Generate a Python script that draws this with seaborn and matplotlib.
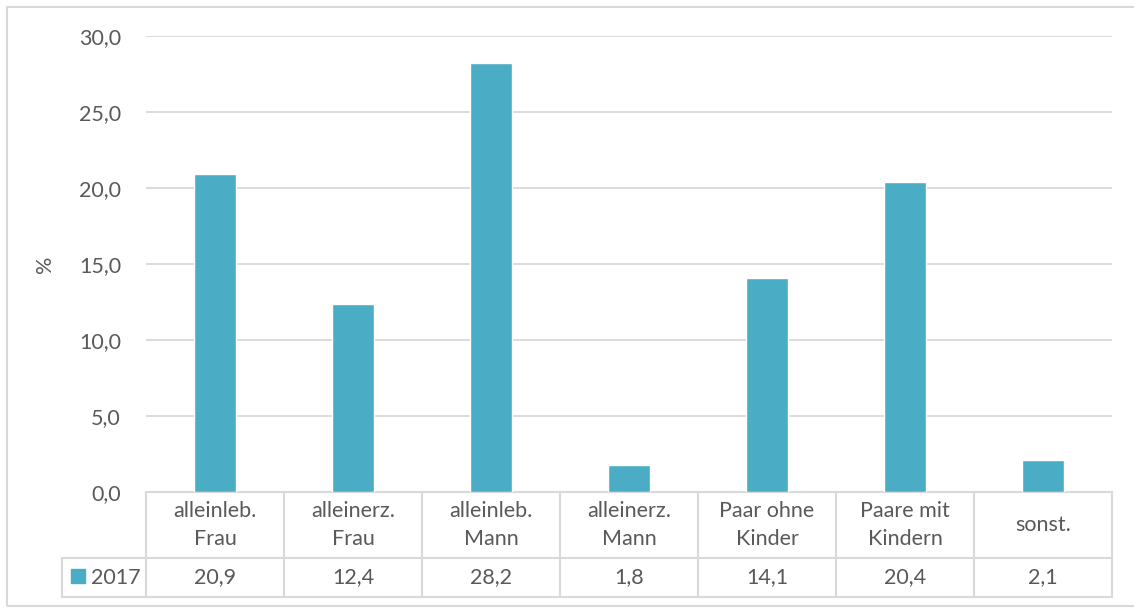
import pandas as pd
import seaborn as sns
import matplotlib.pyplot as plt
from matplotlib.patches import Rectangle
from matplotlib.transforms import blended_transform_factory

# data
categories = ["alleinleb.\nFrau", "alleinerz.\nFrau", "alleinleb.\nMann", "alleinerz.\nMann",
              "Paar ohne\nKinder", "Paare mit\nKindern", "sonst."]
values = [20.9, 12.4, 28.2, 1.8, 14.1, 20.4, 2.1]
series = "2017"
yticks = [0, 5, 10, 15, 20, 25, 30]

BAR = "#4BACC6"
GRID = "#D9D9D9"
TXT = "#595959"

sns.set_theme(style="white")
plt.rcParams["font.family"] = ["Lato", "DejaVu Sans"]

df = pd.DataFrame({"cat": categories, "val": values})

fig = plt.figure(figsize=(11.34, 6.08), dpi=100)
ax = fig.add_axes([146 / 1134, 116 / 608, 966 / 1134, 456 / 608])

sns.barplot(data=df, x="cat", y="val", color=BAR, width=0.31, saturation=1, ax=ax, zorder=3)

ax.set_xlim(-0.5, len(categories) - 0.5)
ax.set_ylim(0, 30)
ax.set_yticks(yticks)
ax.set_yticklabels([f"{v:.1f}".replace(".", ",") for v in yticks], fontsize=15.5, color=TXT)
ax.tick_params(axis="y", length=0, pad=18)
ax.set_xticks([])
ax.set_xlabel("")
ax.set_ylabel("%", fontsize=15.5, color=TXT, labelpad=17)
for s in ax.spines.values():
    s.set_visible(False)
ax.yaxis.grid(True, color=GRID, linewidth=1.3, zorder=0)

# data table below the plot
tr = blended_transform_factory(ax.transData, fig.transFigure)
y_top = 116 / 608
y_mid = 50 / 608
y_bot = 11 / 608
n = len(categories)
kw = dict(color=GRID, linewidth=1.5, clip_on=False, transform=tr)
ax.plot([-0.5, n - 0.5], [y_top, y_top], **kw)
ax.plot([-0.5, n - 0.5], [y_mid, y_mid], **kw)
ax.plot([-0.5, n - 0.5], [y_bot, y_bot], **kw)
for k in range(n + 1):
    ax.plot([k - 0.5, k - 0.5], [y_bot, y_top], **kw)

# legend cell
fig.add_artist(plt.Line2D([62 / 1134, 146 / 1134], [y_mid, y_mid], color=GRID, linewidth=1.5))
fig.add_artist(plt.Line2D([62 / 1134, 146 / 1134], [y_bot, y_bot], color=GRID, linewidth=1.5))
fig.add_artist(plt.Line2D([62 / 1134, 62 / 1134], [y_bot, y_mid], color=GRID, linewidth=1.5))
fig.add_artist(Rectangle((71 / 1134, 25 / 608), 14 / 1134, 14 / 608, color=BAR,
                         transform=fig.transFigure))
fig.text(91 / 1134, (y_mid + y_bot) / 2, series, fontsize=15.5, color=TXT, va="center", ha="left")

for i, (c, v) in enumerate(zip(categories, values)):
    ax.text(i, (y_top + y_mid) / 2, c, transform=tr, ha="center", va="center",
            fontsize=15.5, color=TXT, linespacing=1.45)
    ax.text(i, (y_mid + y_bot) / 2, f"{v:.1f}".replace(".", ","), transform=tr,
            ha="center", va="center", fontsize=15.5, color=TXT)

# outer chart border
fig.add_artist(Rectangle((7 / 1134, 2 / 608), 1130 / 1134, 599 / 608, fill=False,
                         edgecolor=GRID, linewidth=1.5, transform=fig.transFigure))

fig.savefig("out.png", dpi=100)
